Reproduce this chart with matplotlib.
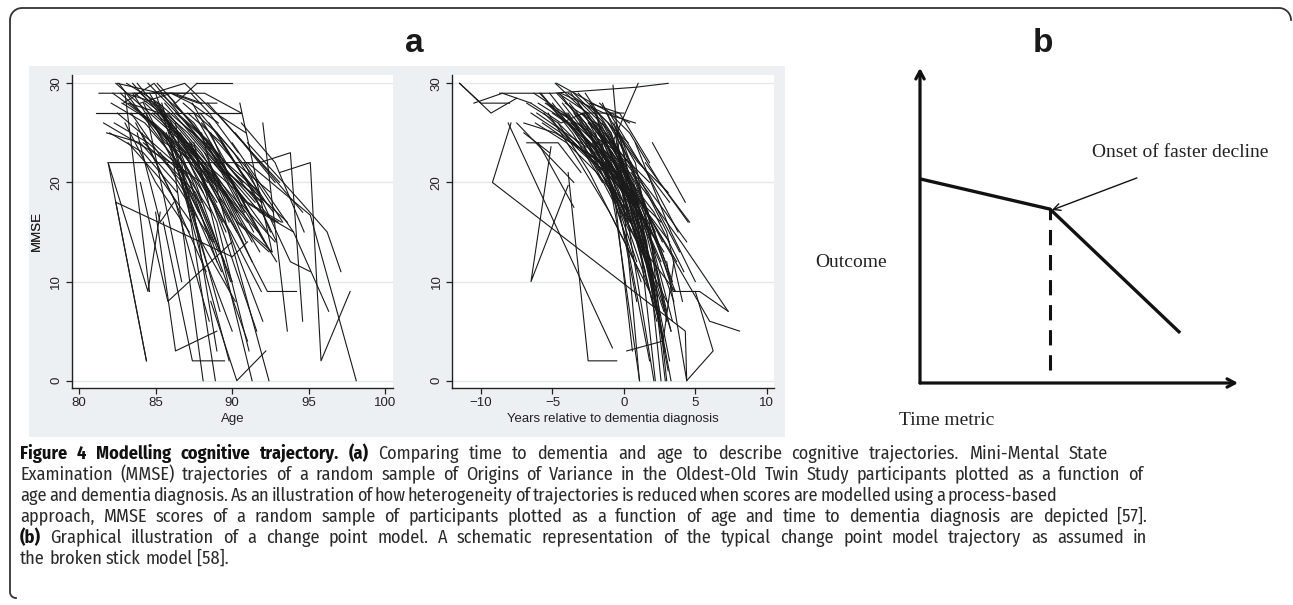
import math
import numpy as np
import matplotlib
matplotlib.use("Agg")
import matplotlib.pyplot as plt
from matplotlib import font_manager
from matplotlib.lines import Line2D
from matplotlib.patches import Rectangle

W, H = 1293, 605

# ---- panel a, left: MMSE by age (one polyline per participant) ----
AGE_PATHS = [
    ([82.4, 84.6, 86.8, 88.5], [30, 27, 24, 19]),
    ([82.6, 85.0, 87.3], [30, 25, 20]),
    ([83.0, 85.1, 87.5, 89.6], [29, 28, 22, 15]),
    ([83.5, 85.8, 88.0], [30, 26, 18]),
    ([81.1, 90.6], [27, 27]),
    ([81.2, 90.5], [27, 27]),
    ([81.3, 88.2, 90.6], [29, 29, 27]),
    ([87.7, 90.0], [30, 30]),
    ([85.1, 86.3, 87.7], [30, 28, 30]),
    ([82.5, 85.3, 87.1], [30, 29, 29]),
    ([83.6, 86.2, 88.0], [29, 29, 28]),
    ([84.0, 86.0, 87.8, 89.0], [28, 29, 28, 28]),
    ([82.9, 84.9, 86.5], [28, 30, 27]),
    ([84.8, 86.9, 88.9, 90.9], [29, 30, 27, 25]),
    ([82.2, 84.0, 86.1, 88.4], [29, 27, 24, 20]),
    ([82.8, 84.9, 87.0], [28, 26, 23]),
    ([83.1, 85.2, 87.4, 89.5], [30, 28, 25, 21]),
    ([83.3, 85.5, 87.8], [28, 25, 17]),
    ([83.6, 85.4, 87.6, 89.8], [29, 27, 23, 16]),
    ([83.9, 86.0, 88.1], [27, 24, 19]),
    ([84.0, 86.2, 88.4, 90.6], [29, 26, 22, 17]),
    ([84.2, 86.5, 88.8], [28, 21, 14]),
    ([84.5, 86.4, 88.6, 90.8], [30, 27, 24, 18]),
    ([84.7, 86.8, 89.0], [26, 22, 12]),
    ([84.9, 87.1, 89.3, 91.4], [28, 25, 21, 15]),
    ([85.1, 87.2, 89.4], [27, 22, 16]),
    ([85.3, 87.5, 89.7, 91.9], [29, 26, 21, 18]),
    ([85.5, 87.6, 89.9], [25, 20, 10]),
    ([85.6, 87.8, 90.0, 92.1], [28, 24, 20, 14]),
    ([85.8, 88.0, 90.3], [27, 23, 17]),
    ([86.0, 88.2, 90.4, 92.5], [26, 22, 19, 13]),
    ([86.2, 88.4, 90.7], [28, 24, 20]),
    ([86.4, 88.6, 90.9, 93.0], [27, 23, 18, 16]),
    ([86.6, 88.8, 91.0], [25, 20, 16]),
    ([86.8, 89.0, 91.2, 93.3], [28, 25, 21, 16]),
    ([87.0, 89.2, 91.5], [26, 22, 18]),
    ([87.2, 89.5, 91.7], [24, 19, 15]),
    ([87.5, 89.7, 92.0], [27, 21, 18]),
    ([87.8, 90.0, 92.3], [25, 20, 15]),
    ([88.0, 90.2, 92.5], [26, 22, 19]),
    ([88.3, 90.5, 92.8], [24, 18, 14]),
    ([88.6, 90.8], [25, 17]),
    ([82.3, 84.5, 86.7], [26, 24, 21]),
    ([82.0, 84.2, 86.4], [25, 23, 19]),
    ([81.8, 84.0, 86.3, 88.7], [25, 24, 20, 14]),
    ([81.6, 83.8, 86.0], [26, 24, 22]),
    ([82.5, 84.8, 87.0, 89.1], [27, 24, 21, 13]),
    ([83.0, 85.0, 87.2], [26, 20, 15]),
    ([83.4, 85.6, 87.9, 90.0], [27, 22, 18, 10]),
    ([83.7, 86.0, 88.3], [26, 19, 11]),
    ([84.1, 86.3, 88.5], [25, 18, 6]),
    ([84.4, 86.7], [27, 10]),
    ([85.0, 86.9, 89.2], [29, 20, 7]),
    ([85.4, 87.5, 89.0], [28, 17, 3]),
    ([85.7, 88.0, 90.2], [25, 14, 8]),
    ([86.1, 88.3, 90.0], [23, 12, 5]),
    ([86.5, 88.7, 91.0], [22, 14, 4]),
    ([86.9, 89.0, 91.1], [23, 16, 3]),
    ([87.3, 89.4, 91.6], [24, 15, 5]),
    ([87.6, 89.8, 92.0], [22, 15, 6]),
    ([88.2, 90.4, 92.6], [23, 16, 13]),
    ([88.8, 91.0, 93.2], [22, 18, 16]),
    ([89.3, 91.5, 93.6], [24, 19, 16]),
    ([89.6, 91.8, 94.0], [21, 17, 15]),
    ([90.2, 92.4, 94.6], [25, 21, 17]),
    ([90.6, 92.8, 94.7], [26, 22, 15]),
    ([89.0, 91.3, 93.1], [27, 23, 20]),
    ([88.4, 90.7, 92.8], [28, 24, 20]),
    ([82.7, 84.8, 86.9, 89.0], [29, 26, 23, 18]),
    ([83.2, 85.3, 87.4, 89.4], [28, 27, 23, 19]),
    ([83.8, 85.9, 88.1, 90.3], [30, 26, 21, 15]),
    ([84.3, 86.4, 88.7, 90.9], [28, 25, 21, 14]),
    ([84.6, 86.6, 88.7], [29, 24, 20]),
    ([85.2, 87.3, 89.6, 91.8], [28, 23, 19, 13]),
    ([85.7, 87.9, 90.1, 92.2], [29, 25, 21, 18]),
    ([86.3, 88.5, 90.6, 92.7], [27, 24, 20, 16]),
    ([86.7, 88.9, 91.1], [26, 23, 17]),
    ([87.1, 89.3, 91.4, 92.5], [27, 24, 19, 15]),
    ([87.4, 89.6, 91.8], [28, 22, 19]),
    ([87.9, 90.1, 92.2], [27, 23, 18]),
    ([88.5, 90.6, 92.7], [26, 21, 17]),
    ([89.0, 91.0, 92.9], [25, 20, 14]),
    ([83.5, 85.6, 87.7], [29, 24, 22]),
    ([84.8, 87.0, 89.2, 91.3], [27, 24, 19, 12]),
    ([85.9, 88.1, 90.3, 92.4], [25, 21, 16, 13]),
    ([86.8, 89.1, 91.3], [24, 20, 14]),
    ([82.1, 84.3, 86.5, 88.6], [28, 26, 22, 17]),
    ([84.2, 85.7, 87.6, 89.5], [24, 22, 19, 12]),
    ([85.3, 87.3, 89.3], [23, 18, 11]),
    ([86.1, 88.0, 89.9, 91.9], [22, 20, 15, 9]),
    ([83.2, 85.5, 87.3], [24, 20, 16]),
    ([88.7, 90.9, 92.9], [21, 17, 12]),
    ([87.3, 88.5, 90.4], [29, 27, 23]),
    ([86.0, 87.3, 89.1], [29, 28, 26]),
    ([81.9, 84.5, 85.3], [22, 9, 17]),
    ([82.4, 84.4], [18, 2]),
    ([81.9, 84.4], [22, 2]),
    ([82.4, 90.0, 91.0], [18, 12.5, 14]),
    ([82.0, 91.8, 93.8, 94.6], [22, 22, 23, 6]),
    ([93.1, 95.1, 95.8, 97.7], [21, 22, 2, 9]),
    ([91.0, 95.1, 98.1], [22, 16.7, 0]),
    ([91.0, 94.5, 96.2, 97.1], [24, 18, 15, 11]),
    ([90.0, 94.0, 96.3], [24, 15, 7]),
    ([90.8, 93.8, 95.1], [22, 12, 11]),
    ([88.0, 92.3, 94.2], [22, 9, 9]),
    ([84.0, 85.8, 90.0], [20, 8, 14]),
    ([85.0, 86.3, 89.0], [17, 3, 5]),
    ([85.5, 87.4, 89.5], [16, 2, 2]),
    ([88.6, 90.3, 92.2], [8, 0, 3]),
    ([86.0, 88.1], [24, 0]),
    ([86.3, 88.9], [26, 0]),
    ([87.5, 91.3], [24, 0]),
    ([88.0, 92.4], [25, 0]),
    ([86.5, 89.8], [21, 2]),
    ([92.0, 93.6], [26, 5]),
    ([90.5, 92.6], [28, 13]),
    ([83.0, 84.6], [29, 9]),
    ([83.8, 85.3, 86.2], [25, 16, 18]),
]

# ---- panel a, right: MMSE by years relative to dementia diagnosis ----
YRS_PATHS = [
    ([-11.5, -10.0, -8.0], [30, 28, 28]),
    ([-11.5, -9.3, -7.5], [30, 27, 28.5]),
    ([-10.5, -8.5, -6.5], [28, 29, 28]),
    ([-8.7, -5.0, 0.8, 3.1], [29, 29, 29.6, 30]),
    ([-7.9, -9.2, 4.3, 4.4], [26, 20, 5, 0]),
    ([-5.1, -6.5, -3.9], [23.6, 10, 19.7]),
    ([-3.9, -2.5, -0.5], [21, 2, 2]),
    ([-8.1, -0.8], [26, 3.3]),
    ([-6.5, -4.4, -2.8, 0.0], [28, 26, 27, 27]),
    ([2.0, 4.3], [24, 18]),
    ([1.5, 4.5], [22, 16]),
    ([0.8, 3.3, 5.0], [24, 15, 10]),
    ([0.5, 4.0, 7.3], [21, 14, 7]),
    ([1.2, 6.0, 8.1], [18, 6, 5]),
    ([0.5, 3.45, 5.3, 7.3], [22, 9, 9, 7]),
    ([3.0, 4.4, 6.25, 5.0], [12, 0, 3, 9]),
    ([0.2, 2.75, 3.5], [3, 4, 12]),
    ([-6.3, -4.2, -2.0, 0.1], [29, 27, 24, 19]),
    ([-6.0, -3.8, -1.7, 0.4], [28, 26, 22, 16]),
    ([-5.8, -3.6, -1.5], [29, 25, 20]),
    ([-5.5, -3.4, -1.2, 0.9], [28, 26, 21, 12]),
    ([-5.2, -3.0, -0.9, 1.2], [29, 25, 19, 10]),
    ([-5.0, -2.9, -0.7], [28, 24, 18]),
    ([-4.8, -2.6, -0.4, 1.7], [30, 27, 22, 12]),
    ([-4.5, -2.4, -0.2, 2.0], [29, 25, 20, 8]),
    ([-4.3, -2.1, 0.0], [28, 24, 17]),
    ([-4.0, -1.9, 0.2, 2.3], [27, 23, 19, 6]),
    ([-3.8, -1.6, 0.5], [28, 24, 15]),
    ([-3.5, -1.4, 0.7, 2.8], [29, 26, 20, 4]),
    ([-3.3, -1.1, 1.0], [27, 22, 14]),
    ([-3.0, -0.9, 1.2, 3.3], [28, 25, 17, 5]),
    ([-2.8, -0.6, 1.5], [27, 21, 12]),
    ([-2.5, -0.4, 1.7, 3.0], [26, 23, 15, 7]),
    ([-2.3, -0.1, 2.0], [28, 20, 10]),
    ([-2.0, 0.1, 2.2], [27, 21, 13]),
    ([-1.8, 0.3, 2.5, 3.5], [25, 19, 12, 8]),
    ([-1.5, 0.6, 2.7], [26, 20, 14]),
    ([-1.2, 0.8, 3.0], [27, 22, 6]),
    ([-1.0, 1.0, 3.2], [25, 18, 2]),
    ([-0.8, 1.2, 3.3], [24, 16, 0]),
    ([-0.5, 1.5], [26, 13]),
    ([-0.3, 1.7, 3.0], [25, 17, 0]),
    ([-6.5, -4.4, -2.2, 0.0], [27, 25, 22, 18]),
    ([-7.0, -4.8, -2.6], [26, 25, 23]),
    ([-6.8, -4.6, -2.5, -0.3], [28, 26, 23, 20]),
    ([-6.2, -4.0, -1.9, 0.3], [26, 24, 21, 17]),
    ([-5.6, -3.5, -1.3, 0.8], [27, 24, 21, 18]),
    ([-4.9, -2.8, -0.6, 1.6], [26, 23, 20, 16]),
    ([-4.2, -2.0, 0.1, 2.3], [25, 22, 19, 14]),
    ([-3.6, -1.5, 0.6, 2.8], [24, 22, 18, 13]),
    ([-3.1, -1.0, 1.1, 3.2], [26, 22, 18, 14]),
    ([-2.6, -0.5, 1.6, 3.7], [25, 22, 17, 12]),
    ([-2.1, 0.0, 2.1, 4.2], [24, 21, 17, 11]),
    ([-1.6, 0.5, 2.6], [23, 19, 16]),
    ([-4.6, -2.5, -0.3, 1.8], [29, 27, 23, 20]),
    ([-3.9, -1.8, 0.3], [29, 27, 24]),
    ([-3.2, -1.1, 1.0, 3.1], [29, 26, 22, 19]),
    ([-2.4, -0.3, 1.8], [28, 27, 22]),
    ([-1.7, 0.4, 2.5, 4.6], [28, 25, 20, 16]),
    ([-1.0, 1.1, 3.2], [27, 22, 18]),
    ([-0.4, 1.6, 3.8], [25, 21, 15]),
    ([-5.3, -3.1, -1.0, 1.1], [27, 22, 17, 11]),
    ([-4.6, -2.4, -0.3, 1.8], [26, 21, 15, 9]),
    ([-3.9, -1.7, 0.4, 2.5], [27, 22, 15, 6]),
    ([-3.4, -1.2, 0.9, 3.0], [25, 20, 14, 8]),
    ([-2.7, -0.6, 1.5, 3.6], [26, 19, 13, 9]),
    ([-2.2, -0.1, 2.0], [24, 17, 11]),
    ([-1.4, 0.7, 2.8], [24, 16, 7]),
    ([-0.9, 1.2, 3.3], [23, 15, 5]),
    ([-0.2, 1.9, 2.9], [22, 12, 0]),
    ([-0.6, 0.5, 2.1], [25, 14, 0]),
    ([-1.9, -0.5, 1.1], [27, 16, 0]),
    ([-0.76, 1.09], [29.8, 0]),
    ([-4.7, -2.2, 0.4], [30, 28, 26]),
    ([-4.4, -1.4, 0.8], [29, 27, 26]),
    ([-0.8, 1.0], [24, 30]),
    ([-7.5, -5.5, -3.5], [26, 23, 20]),
    ([-7.0, -5.2], [25, 23]),
    ([-6.8, -4.6, -3.0], [24, 24, 21]),
    ([-6.0, -3.5], [24, 17.5]),
    ([-5.9, -3.9, -1.8, 0.3], [29, 26, 23, 18]),
    ([-5.4, -3.3, -1.1, 1.0], [28, 25, 21, 15]),
    ([-4.7, -2.7, -0.5, 1.5], [29, 26, 21, 11]),
    ([-4.1, -2.0, 0.0, 2.1], [28, 26, 20, 9]),
    ([-3.7, -1.6, 0.4, 2.4], [29, 25, 19, 7]),
    ([-3.2, -1.2, 0.9, 2.9], [28, 24, 16, 3]),
    ([-2.9, -0.8, 1.3], [27, 23, 15]),
    ([-2.4, -0.3, 1.7, 3.6], [26, 22, 16, 9]),
    ([-1.9, 0.2, 2.2], [26, 21, 15]),
    ([-1.3, 0.8, 2.9], [25, 20, 12]),
    ([-0.7, 1.4, 3.4], [26, 18, 10]),
    ([-6.1, -4.1, -2.0, 0.0], [27, 25, 23, 20]),
    ([-5.7, -3.7, -1.6, 0.5], [26, 24, 22, 19]),
    ([-5.0, -3.0, -1.0, 1.2], [27, 25, 22, 17]),
    ([-4.4, -2.3, -0.2, 1.9], [27, 25, 21, 15]),
    ([-3.7, -1.7, 0.5, 2.6], [26, 23, 19, 12]),
    ([-3.0, -1.0, 1.2, 3.4], [27, 24, 18, 6]),
    ([-2.4, -0.4, 1.7, 3.9], [25, 23, 19, 13]),
    ([-1.8, 0.3, 2.4, 4.4], [26, 22, 18, 14]),
    ([-1.1, 0.9, 3.0, 4.1], [26, 21, 15, 8]),
    ([-0.5, 1.6, 2.6], [24, 14, 0]),
    ([-2.7, -0.9, 0.8, 2.2], [29, 25, 18, 0]),
    ([-3.5, -1.6, 0.2, 1.8], [27, 23, 14, 2]),
    ([-4.2, -2.5, -0.6, 0.6], [27, 24, 18, 3]),
    ([-1.5, 0.0, 1.5, 3.1], [28, 23, 13, 1]),
    ([-2.0, -0.7, 0.9], [25, 20, 8]),
]

MMSE_TICKS = [0, 10, 20, 30]
AGE_TICKS = [80, 85, 90, 95, 100]
YRS_TICKS = [-10, -5, 0, 5, 10]

# ---- panel b: broken stick schematic (arbitrary units 0..10) ----
STICK_TIME = [0, 4.09, 8.18]
STICK_OUTCOME = [6.48, 5.52, 1.59]
CHANGE_POINT = 4.09
ONSET_LABEL_AT = (6.82, 6.51)

CAPTION_LINES = [
    [("Figure 4 Modelling cognitive trajectory. (a)", True),
     ("Comparing time to dementia and age to describe cognitive trajectories. Mini-Mental State", False)],
    [("Examination (MMSE) trajectories of a random sample of Origins of Variance in the "
      "Oldest-Old Twin Study participants plotted as a function of", False)],
    [("age and dementia diagnosis. As an illustration of how heterogeneity of trajectories "
      "is reduced when scores are modelled using a process-based", False)],
    [("approach, MMSE scores of a random sample of participants plotted as a function of "
      "age and time to dementia diagnosis are depicted [57].", False)],
    [("(b)", True),
     ("Graphical illustration of a change point model. A schematic representation of the "
      "typical change point model trajectory as assumed in", False)],
    [("the broken stick model [58].", False)],
]
CAPTION_RIGHT = [1108, 1143, 1057, 1147, 1147, None]


def fx(px):
    return px / W


def fy(py):
    return 1 - py / H


fonts = font_manager.fontManager.ttflist
regular = {f.name for f in fonts if f.weight in (400, "normal", "regular") and f.style == "normal"}
installed = {f.name for f in fonts}
CAP_FONT = next((f for f in ["Open Sans Condensed", "Noto Sans Condensed", "Fira Sans Condensed",
                             "Encode Sans Condensed", "Asap Condensed", "Open Sans"]
                 if f in regular), "DejaVu Sans")
SANS = "Liberation Sans" if "Liberation Sans" in installed else "DejaVu Sans"
SERIF = "Liberation Serif" if "Liberation Serif" in installed else "DejaVu Serif"

fig = plt.figure(figsize=(W / 100, H / 100), dpi=100)
fig.patch.set_facecolor("white")

# gray Stata graph region behind panel a
fig.add_artist(Rectangle((fx(29), fy(437)), fx(785) - fx(29), fy(66) - fy(437),
                         transform=fig.transFigure, facecolor="#edf0f2",
                         edgecolor="none", zorder=0))

# outer frame: top and left edges with rounded corners
r = 12
th = np.linspace(0, np.pi / 2, 12)
frame_x, frame_y = [], []
frame_x += list(1291 - r + r * np.cos(th)); frame_y += list(8 + r - r * np.sin(th))
frame_x += list(10 + r - r * np.sin(th)); frame_y += list(8 + r - r * np.cos(th))
frame_x += list(10 + 6 - 6 * np.cos(th)); frame_y += list(592 + 6 * np.sin(th))
fig.add_artist(Line2D([fx(v) for v in frame_x], [fy(v) for v in frame_y],
                      transform=fig.transFigure, color="#333333", lw=1.3))


def spaghetti(box, paths, xlim, xticks, xlabel):
    left, top, right, bottom = box
    ax = fig.add_axes([fx(left), fy(bottom), fx(right) - fx(left), fy(top) - fy(bottom)])
    ax.set_facecolor("white")
    for xs, ys in paths:
        ax.plot(xs, ys, color="#1a1a1a", lw=0.8)
    ax.set_xlim(*xlim)
    ax.set_ylim(-0.71, 30.84)
    ax.set_xticks(xticks)
    ax.set_yticks(MMSE_TICKS)
    ax.yaxis.grid(True, color="#e4e7ea", lw=1.0)
    ax.set_axisbelow(True)
    for s in ["top", "right"]:
        ax.spines[s].set_visible(False)
    for s in ["left", "bottom"]:
        ax.spines[s].set_color("#222222")
        ax.spines[s].set_linewidth(1.0)
    ax.tick_params(length=4, width=0.9, color="#222222", labelsize=9.5,
                   labelcolor="#222222", pad=3)
    for t in ax.get_xticklabels() + ax.get_yticklabels():
        t.set_family(SANS)
    for t in ax.get_yticklabels():
        t.set_rotation(90)
        t.set_va("center")
    ax.set_xlabel(xlabel, fontsize=9.5, family=SANS, color="#222222")
    ax.set_ylabel("MMSE", fontsize=9.5, family=SANS, color="#222222")
    ax.xaxis.set_label_coords(0.5, -25.5 / (bottom - top))
    ax.yaxis.set_label_coords(-(left - 43) / (right - left), 0.5)
    return ax


spaghetti((72, 75, 393, 387.7), AGE_PATHS, (79.54, 100.5), AGE_TICKS, "Age")
spaghetti((452.3, 75, 774, 387.7), YRS_PATHS, (-12.01, 10.51), YRS_TICKS,
          "Years relative to dementia diagnosis")

fig.text(fx(414), fy(52), "a", fontsize=24, fontweight="bold", family=SANS,
         ha="center", va="baseline", color="#1a1a1a")
fig.text(fx(1043), fy(52), "b", fontsize=24, fontweight="bold", family=SANS,
         ha="center", va="baseline", color="#1a1a1a")

# panel b
axb = fig.add_axes([fx(920), fy(383), fx(1238) - fx(920), fy(68) - fy(383)])
axb.set_xlim(0, 10)
axb.set_ylim(0, 10)
axb.axis("off")
axb.plot(STICK_TIME, STICK_OUTCOME, color="#111111", lw=2.4, solid_capstyle="butt")
axb.plot([CHANGE_POINT, CHANGE_POINT], [0.41, STICK_OUTCOME[1]], color="#111111",
         lw=2.2, dashes=(5, 3.2))
arrow_kw = dict(arrowstyle="->,head_length=0.55,head_width=0.3", color="#111111",
                lw=2.3, shrinkA=0, shrinkB=0)
axb.annotate("", xy=(0, 10), xytext=(0, 0), arrowprops=arrow_kw, annotation_clip=False)
axb.annotate("", xy=(10, 0), xytext=(0, 0), arrowprops=arrow_kw, annotation_clip=False)
axb.annotate("", xy=(CHANGE_POINT + 0.06, STICK_OUTCOME[1] - 0.03), xytext=ONSET_LABEL_AT,
             arrowprops=dict(arrowstyle="->,head_length=0.5,head_width=0.25",
                             color="#111111", lw=1.0, shrinkA=0, shrinkB=0))
axb.text(5.4, 7.17, "Onset of faster decline", family=SERIF, fontsize=14,
         color="#222222", va="baseline", ha="left")
axb.text(-3.30, 3.68, "Outcome", family=SERIF, fontsize=14, color="#222222",
         va="baseline", ha="left", clip_on=False)
axb.text(0.85, -1.33, "Time metric", family=SERIF, fontsize=14, color="#222222",
         va="baseline", ha="center", clip_on=False)

# ---- caption, word by word so that lines can be justified ----
fig.canvas.draw()
rend = fig.canvas.get_renderer()
BASE = 13.5


def text_width(s, bold, size):
    t = fig.text(0, 0, s, fontsize=size, family=CAP_FONT,
                 fontweight="bold" if bold else "normal")
    w = t.get_window_extent(rend).width
    t.remove()
    return w


line_words = []
for segs in CAPTION_LINES:
    words = []
    for txt, bold in segs:
        words += [(w, bold) for w in txt.split()]
    line_words.append(words)

space_base = text_width("x x", False, BASE) - text_width("xx", False, BASE)
widths = [[text_width(w, b, BASE) for w, b in words] for words in line_words]
ratios = [(right - 20) / (sum(ws) + 0.55 * space_base * (len(ws) - 1))
          for ws, right in zip(widths, CAPTION_RIGHT) if right is not None]
fs = round(BASE * min(1.0, min(ratios)), 1)
space_w = text_width("x x", False, fs) - text_width("xx", False, fs)

baseline = 459
for words, right in zip(line_words, CAPTION_RIGHT):
    ws = [text_width(w, b, fs) for w, b in words]
    gap = space_w if right is None else (right - 20 - sum(ws)) / (len(ws) - 1)
    x = 20.0
    for (w, bold), wd in zip(words, ws):
        t = fig.text(fx(x), fy(baseline), w, fontsize=fs, family=CAP_FONT,
                     fontweight="bold" if bold else "normal",
                     color="#111111" if bold else "#2a2a2a", va="baseline", ha="left")
        # the Agg raster step rounds each word's bitmap by its own descent;
        # shift the anchor so every word lands on the same pixel baseline
        _, hh, dd = rend.get_text_width_height_descent(w, t.get_fontproperties(), ismath=False)
        y_top = baseline - dd + math.floor(hh) - math.floor(hh - dd)
        t.set_position((fx(x), fy(y_top)))
        x += wd + gap
    baseline += 21

fig.savefig("out.png", dpi=100, facecolor="white")
